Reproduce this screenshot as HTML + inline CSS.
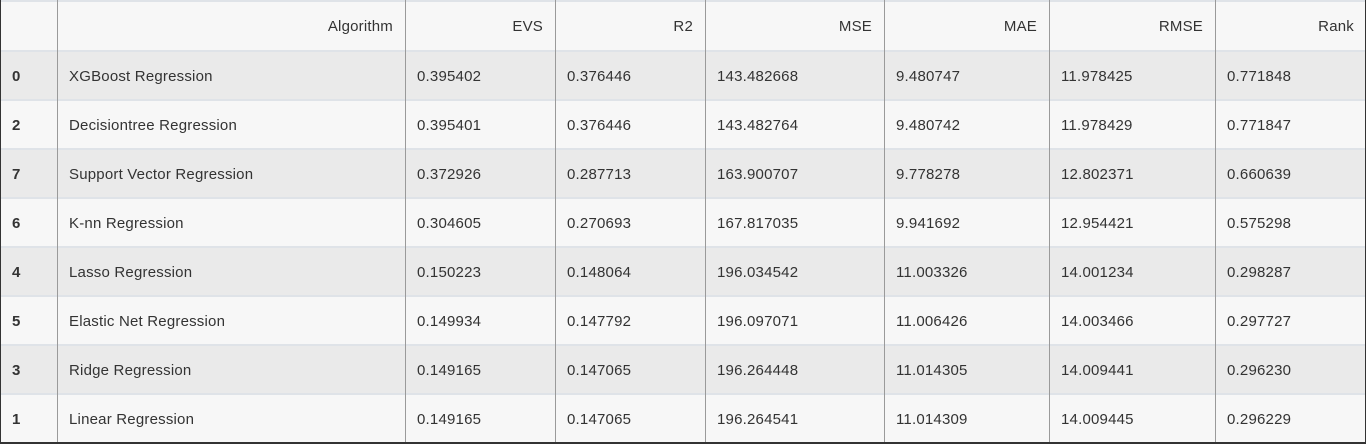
<!DOCTYPE html>
<html><head><meta charset="utf-8"><style>
body{margin:0;width:1366px;height:444px;overflow:hidden;background:#fff;font-family:"Liberation Sans",sans-serif;}
#t{position:relative;width:1366px;height:444px;}
.row{position:absolute;left:0;width:1366px;}
.c{position:absolute;top:0;height:100%;box-sizing:border-box;display:flex;align-items:center;font-size:15px;letter-spacing:0.2px;color:#333;padding:2px 12px 0 12px;white-space:nowrap;}
.vl{position:absolute;top:0;width:1px;height:444px;background:#9a9a9a;}
.hl{position:absolute;left:0;width:1366px;height:2px;background:#dfe3e8;}
</style></head><body>
<div id="t"></div>
<script>
const cols=[0,57,405,555,705,884,1049,1215,1366];
const headers=["","Algorithm","EVS","R2","MSE","MAE","RMSE","Rank"];
const idx=["0","2","7","6","4","5","3","1"];
const algos=["XGBoost Regression","Decisiontree Regression","Support Vector Regression","K-nn Regression","Lasso Regression","Elastic Net Regression","Ridge Regression","Linear Regression"];
const evs=["0.395402","0.395401","0.372926","0.304605","0.150223","0.149934","0.149165","0.149165"];
const r2=["0.376446","0.376446","0.287713","0.270693","0.148064","0.147792","0.147065","0.147065"];
const mse=["143.482668","143.482764","163.900707","167.817035","196.034542","196.097071","196.264448","196.264541"];
const mae=["9.480747","9.480742","9.778278","9.941692","11.003326","11.006426","11.014305","11.014309"];
const rmse=["11.978425","11.978429","12.802371","12.954421","14.001234","14.003466","14.009441","14.009445"];
const rank=["0.771848","0.771847","0.660639","0.575298","0.298287","0.297727","0.296230","0.296229"];
const tbl=document.getElementById('t');
function mkRow(vals,y,h,bg,isHeader,name){
  const r=document.createElement('div');r.className='row';
  
  
  r.style.top=y+'px';r.style.height=h+'px';r.style.background=bg;
  vals.forEach((v,i)=>{
    const c=document.createElement('div');c.className='c';
    
    
    c.style.left=cols[i]+'px';c.style.width=(cols[i+1]-cols[i])+'px';
    if(isHeader){c.style.justifyContent='flex-end';}
    if(i===0&&!isHeader){c.style.fontWeight='600';c.style.color='#333';}
    c.textContent=v;r.appendChild(c);
  });
  tbl.appendChild(r);
}
mkRow(headers,0,51,'#f7f7f7',true,'header-row');
for(let i=0;i<8;i++){
  mkRow([idx[i],algos[i],evs[i],r2[i],mse[i],mae[i],rmse[i],rank[i]],51+i*49,49,i%2===0?'#eaeaea':'#f7f7f7',false,'row-'+idx[i]);
  const hl=document.createElement('div');hl.className='hl';
  
  
  hl.style.top=(50+i*49)+'px';tbl.appendChild(hl);
}
const topB=document.createElement('div');topB.className='hl';


topB.style.top='0px';tbl.appendChild(topB);
for(let i=1;i<cols.length-1;i++){
  const v=document.createElement('div');v.className='vl';
  
  
  v.style.left=cols[i]+'px';tbl.appendChild(v);
}
[['left',0],['right',1365]].forEach(([n,x])=>{
  const v=document.createElement('div');v.className='vl';
  
  
  v.style.left=x+'px';v.style.background='#333';tbl.appendChild(v);
});
const botB=document.createElement('div');botB.className='hl';


botB.style.top='442px';botB.style.background='#333';tbl.appendChild(botB);
</script>
</body></html>
